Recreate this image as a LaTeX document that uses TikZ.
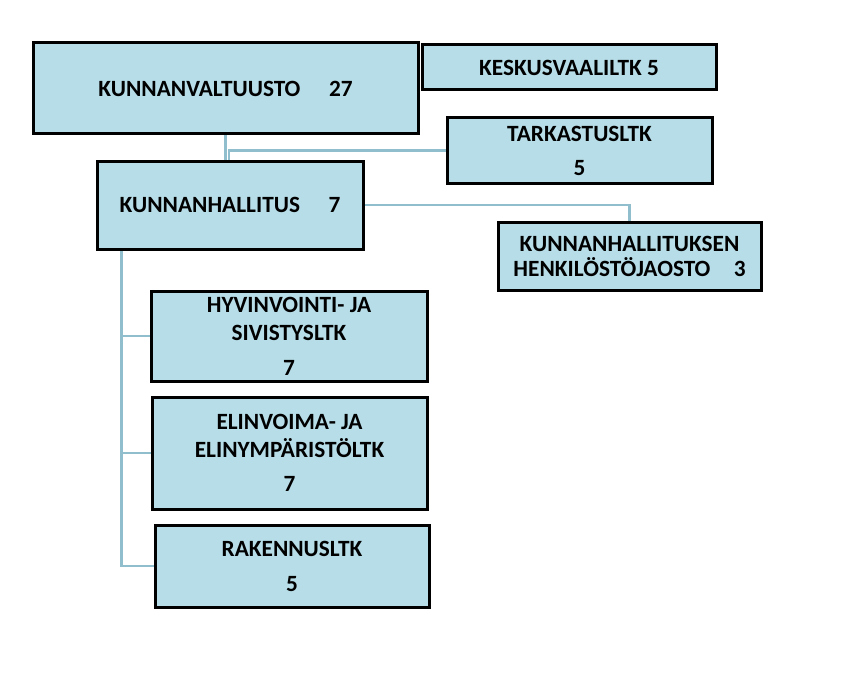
\documentclass[tikz,border=0pt]{standalone}
\usepackage{fontspec}
\setmainfont{Carlito}
\usetikzlibrary{backgrounds}
\definecolor{boxfill}{RGB}{183,222,232}
\definecolor{linkblue}{RGB}{145,190,205}
\tikzset{
  orgbox/.style={draw=black, line width=3pt, fill=boxfill, align=center,
    inner sep=0pt, font=\fontsize{23.3}{28}\selectfont\bfseries},
  conn/.style={draw=linkblue, line width=2.6pt}
}
\begin{document}
\begin{tikzpicture}[x=1pt,y=1pt,yscale=-1,xscale=1]
  \useasboundingbox (0,0) rectangle (851,674);
  % Boxes
  \node [orgbox, minimum width=385, minimum height=91] (valt) at (225.5,88.5) {KUNNANVALTUUSTO\quad\ 27};
  \node [orgbox, minimum width=294, minimum height=45] (kesk) at (569,67.5) {KESKUSVAALILTK 5};
  \node [orgbox, minimum width=265, minimum height=65] (tark) at (579.5,150.5) {TARKASTUSLTK\\[6pt] 5};
  \node [orgbox, minimum width=266, minimum height=88] (hall) at (230,205) {KUNNANHALLITUS\quad\ 7};
  \node [orgbox, minimum width=263, minimum height=68, font=\fontsize{23.3}{25}\selectfont\bfseries] (henk) at (629.5,256) {KUNNANHALLITUKSEN\\ HENKILÖSTÖJAOSTO\quad 3};
  \node [orgbox, minimum width=276, minimum height=90] (hyv) at (289,336) {HYVINVOINTI- JA\\ SIVISTYSLTK\\[7pt] 7};
  \node [orgbox, minimum width=275, minimum height=112] (eli) at (289.5,453) {ELINVOIMA- JA\\ ELINYMPÄRISTÖLTK\\[6pt] 7};
  \node [orgbox, minimum width=274, minimum height=82] (rak) at (292,566) {RAKENNUSLTK\\[7pt] 5};
  % Connectors
  \begin{scope}[on background layer]
    \draw [conn] (valt.south) -- (valt.south |- hall.north);
    \draw [conn] (tark.west) -| ([xshift=-1pt]hall.north);
    \draw [conn] (hall.east) -| (henk.north);
    \coordinate (trunk) at ([xshift=26pt]hall.south west);
    \foreach \n in {hyv,eli,rak}
      \draw [conn] (trunk) |- (\n.west);
  \end{scope}
\end{tikzpicture}
\end{document}
